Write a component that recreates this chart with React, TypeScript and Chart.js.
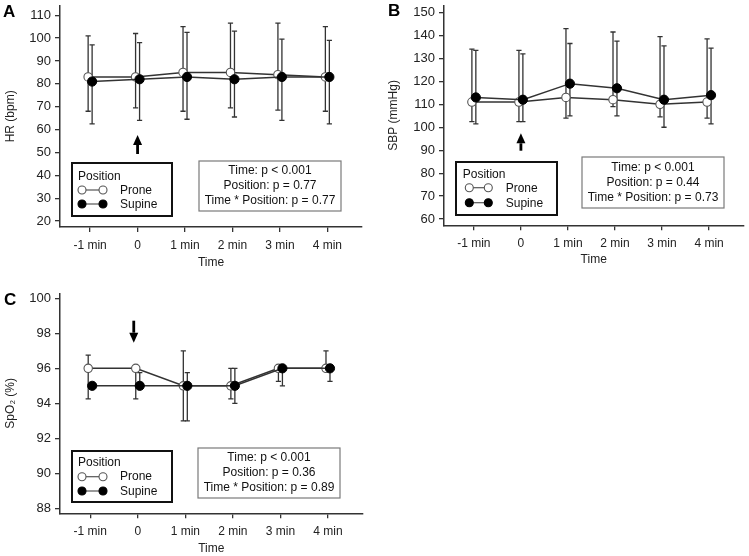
import React, { useEffect, useRef } from "react";
import { Chart, registerables } from "chart.js";

Chart.register(...registerables);

// ---------- data ----------
const timeLabels = ["-1 min", "0", "1 min", "2 min", "3 min", "4 min"];
const timePoints = [-1, 0, 1, 2, 3, 4];
const seriesNames = ["Prone", "Supine"];

// Panel A: HR (bpm)
const hrProne = [83, 83, 85, 85, 84, 83];
const hrProneUpper = [101, 102, 105, 106.5, 106.5, 105];
const hrProneLower = [68, 69.5, 68, 69.5, 68.5, 68];
const hrSupine = [81, 82, 83, 82, 83, 83];
const hrSupineUpper = [97, 98, 102.5, 103, 99.5, 99];
const hrSupineLower = [62.5, 64, 64.5, 65.5, 64, 62.5];
const hrTicks = [20, 30, 40, 50, 60, 70, 80, 90, 100, 110];
const hrStats = ["Time: p < 0.001", "Position: p = 0.77", "Time * Position: p = 0.77"];

// Panel B: SBP (mmHg)
const sbpProne = [111, 111, 113, 112, 110, 111];
const sbpProneUpper = [134, 133.5, 143, 141.5, 139.5, 138.5];
const sbpProneLower = [102.5, 102.5, 104, 109, 104.5, 104];
const sbpSupine = [113, 112, 119, 117, 112, 114];
const sbpSupineUpper = [133.5, 132, 136.5, 137.5, 135.5, 134.5];
const sbpSupineLower = [101.5, 102.5, 105, 105, 100, 101.5];
const sbpTicks = [60, 70, 80, 90, 100, 110, 120, 130, 140, 150];
const sbpStats = ["Time: p < 0.001", "Position: p = 0.44", "Time * Position: p = 0.73"];

// Panel C: SpO2 (%)
const spoProne = [96, 96, 95, 95, 96, 96];
const spoProneUpper = [96.75, 96, 97, 96, 96, 97];
const spoProneLower = [94.25, 94.25, 93, 94.25, 95.25, 96];
const spoSupine = [95, 95, 95, 95, 96, 96];
const spoSupineUpper = [95, 95.75, 95.75, 96, 96, 96];
const spoSupineLower = [95, 95, 93, 94, 95, 95.25];
const spoTicks = [88, 90, 92, 94, 96, 98, 100];
const spoStats = ["Time: p < 0.001", "Position: p = 0.36", "Time * Position: p = 0.89"];

// ---------- styling ----------
const FONT = "'Liberation Sans', Arial, sans-serif";
const INK = "#333333";
const SERIES_OFFSET = 0.042;
const X_MIN = -1.635;
const X_MAX = 4.73;

type Panel = {
  letter: string;
  yTitle: string;
  yMin: number;
  yMax: number;
  yTicks: number[];
  prone: number[];
  proneUp: number[];
  proneLo: number[];
  supine: number[];
  supineUp: number[];
  supineLo: number[];
  stats: string[];
  left: number;
  top: number;
  width: number;
  height: number;
  padTop: number;
  padRight: number;
  yWidth: number;
  xHeight: number;
  yTitlePad: number;
  xTitlePad: number;
  letterX: number;
  letterY: number;
  legend: { x: number; y: number; w: number; h: number; tx: number; ty: number; c1: number; c2: number; lx: number; r1: number; r2: number; b1: number; b2: number };
  statsBox: { x: number; y: number; w: number; h: number; b: number[] };
  arrow: { dx: number; tip: number; tail: number };
};

const panels: Panel[] = [
  {
    letter: "A",
    yTitle: "HR (bpm)",
    yMin: 17.4,
    yMax: 114.2,
    yTicks: hrTicks,
    prone: hrProne,
    proneUp: hrProneUpper,
    proneLo: hrProneLower,
    supine: hrSupine,
    supineUp: hrSupineUpper,
    supineLo: hrSupineLower,
    stats: hrStats,
    left: 0,
    top: 0,
    width: 375,
    height: 280,
    padTop: 3,
    padRight: 13,
    yWidth: 60,
    xHeight: 53,
    yTitlePad: 3,
    xTitlePad: 10,
    letterX: 3,
    letterY: 17,
    legend: { x: 72, y: 163, w: 100, h: 53, tx: 78, ty: 180.3, c1: 82, c2: 103, lx: 120, r1: 190, r2: 204, b1: 193.6, b2: 208 },
    statsBox: { x: 199, y: 161, w: 142, h: 50, b: [174, 189, 204] },
    arrow: { dx: 0, tip: 135, tail: 154 },
  },
  {
    letter: "B",
    yTitle: "SBP (mmHg)",
    yMin: 57.3,
    yMax: 153.0,
    yTicks: sbpTicks,
    prone: sbpProne,
    proneUp: sbpProneUpper,
    proneLo: sbpProneLower,
    supine: sbpSupine,
    supineUp: sbpSupineUpper,
    supineLo: sbpSupineLower,
    stats: sbpStats,
    left: 375,
    top: 0,
    width: 374,
    height: 280,
    padTop: 3,
    padRight: 3.3,
    yWidth: 69,
    xHeight: 54.7,
    yTitlePad: 11,
    xTitlePad: 13,
    letterX: 13,
    letterY: 16,
    legend: { x: 81, y: 162, w: 101, h: 53, tx: 87.7, ty: 177.6, c1: 94.3, c2: 113.3, lx: 130.7, r1: 187.7, r2: 202.7, b1: 192, b2: 207 },
    statsBox: { x: 207, y: 157, w: 142, h: 51, b: [170.5, 185.5, 200.5] },
    arrow: { dx: 0, tip: 133.3, tail: 150.7 },
  },
  {
    letter: "C",
    yTitle: "SpO\u2082 (%)",
    yMin: 87.71,
    yMax: 100.29,
    yTicks: spoTicks,
    prone: spoProne,
    proneUp: spoProneUpper,
    proneLo: spoProneLower,
    supine: spoSupine,
    supineUp: spoSupineUpper,
    supineLo: spoSupineLower,
    stats: spoStats,
    left: 0,
    top: 280,
    width: 375,
    height: 276,
    padTop: 13.3,
    padRight: 12.3,
    yWidth: 60,
    xHeight: 42.7,
    yTitlePad: 3,
    xTitlePad: 0.5,
    letterX: 4,
    letterY: 25,
    legend: { x: 72, y: 171, w: 100, h: 51, tx: 78, ty: 186.3, c1: 82, c2: 103, lx: 120, r1: 196.7, r2: 211, b1: 200.3, b2: 214.6 },
    statsBox: { x: 198, y: 168, w: 142, h: 50, b: [180.5, 195.5, 210.5] },
    arrow: { dx: -4, tip: 62.7, tail: 40.7 },
  },
];

function toPoints(values: number[], offset: number) {
  return values.map((v, i) => ({ x: timePoints[i] + offset, y: v }));
}

const errorBarPlugin = {
  id: "errorBars",
  beforeDatasetsDraw(chart: any) {
    const ctx = chart.ctx;
    const xs = chart.scales.x;
    const ys = chart.scales.y;
    ctx.save();
    ctx.strokeStyle = INK;
    ctx.lineWidth = 1.3;
    chart.data.datasets.forEach((ds: any) => {
      ds.data.forEach((pt: any, j: number) => {
        const up = ds.errUp[j];
        const lo = ds.errLo[j];
        const px = xs.getPixelForValue(pt.x);
        const pu = ys.getPixelForValue(up);
        const pl = ys.getPixelForValue(lo);
        ctx.beginPath();
        ctx.moveTo(px, pu);
        ctx.lineTo(px, pl);
        if (up > pt.y) {
          ctx.moveTo(px - 2.6, pu);
          ctx.lineTo(px + 2.6, pu);
        }
        if (lo < pt.y) {
          ctx.moveTo(px - 2.6, pl);
          ctx.lineTo(px + 2.6, pl);
        }
        ctx.stroke();
      });
    });
    ctx.restore();
  },
};

function makeDecorPlugin(p: Panel) {
  return {
    id: "decor" + p.letter,
    afterDraw(chart: any) {
      const ctx = chart.ctx;
      const xs = chart.scales.x;
      ctx.save();
      // panel letter
      ctx.fillStyle = "#000";
      ctx.font = `bold 17px ${FONT}`;
      ctx.textAlign = "left";
      ctx.textBaseline = "alphabetic";
      ctx.fillText(p.letter, p.letterX, p.letterY);

      // arrow at time 0
      const ax = xs.getPixelForValue(0) + p.arrow.dx;
      const dir = p.arrow.tip < p.arrow.tail ? -1 : 1;
      const headLen = 10;
      const headBase = p.arrow.tip - dir * headLen;
      ctx.fillStyle = "#000";
      ctx.fillRect(ax - 1.4, Math.min(headBase, p.arrow.tail), 2.8, Math.abs(p.arrow.tail - headBase));
      ctx.beginPath();
      ctx.moveTo(ax, p.arrow.tip);
      ctx.lineTo(ax - 4.5, headBase);
      ctx.lineTo(ax + 4.5, headBase);
      ctx.closePath();
      ctx.fill();

      // legend box
      const L = p.legend;
      ctx.strokeStyle = "#111";
      ctx.lineWidth = 2;
      ctx.strokeRect(L.x, L.y, L.w, L.h);
      ctx.font = `12px ${FONT}`;
      ctx.fillStyle = "#111";
      ctx.fillText("Position", L.tx, L.ty);
      const rows = [
        { cy: L.r1, by: L.b1, fill: "#ffffff", stroke: "#555", name: seriesNames[0] },
        { cy: L.r2, by: L.b2, fill: "#000000", stroke: "#000", name: seriesNames[1] },
      ];
      rows.forEach((r) => {
        ctx.strokeStyle = "#555";
        ctx.lineWidth = 1.2;
        ctx.beginPath();
        ctx.moveTo(L.c1, r.cy);
        ctx.lineTo(L.c2, r.cy);
        ctx.stroke();
        [L.c1, L.c2].forEach((cx) => {
          ctx.beginPath();
          ctx.arc(cx, r.cy, 4, 0, Math.PI * 2);
          ctx.fillStyle = r.fill;
          ctx.fill();
          ctx.strokeStyle = r.stroke;
          ctx.lineWidth = 1.1;
          ctx.stroke();
        });
        ctx.fillStyle = "#111";
        ctx.fillText(r.name, L.lx, r.by);
      });

      // stats box
      const S = p.statsBox;
      ctx.strokeStyle = "#7a7a7a";
      ctx.lineWidth = 1.2;
      ctx.strokeRect(S.x, S.y, S.w, S.h);
      ctx.fillStyle = "#111";
      ctx.textAlign = "center";
      p.stats.forEach((s, i) => {
        ctx.fillText(s, S.x + S.w / 2, S.b[i]);
      });
      ctx.restore();
    },
  };
}

function makeConfig(p: Panel): any {
  return {
    type: "line",
    data: {
      datasets: [
        {
          label: seriesNames[0],
          data: toPoints(p.prone, -SERIES_OFFSET),
          errUp: p.proneUp,
          errLo: p.proneLo,
          borderColor: INK,
          borderWidth: 1.5,
          pointRadius: 4.2,
          pointBackgroundColor: "#ffffff",
          pointBorderColor: "#555555",
          pointBorderWidth: 1.1,
          order: 1,
          clip: false,
        },
        {
          label: seriesNames[1],
          data: toPoints(p.supine, SERIES_OFFSET),
          errUp: p.supineUp,
          errLo: p.supineLo,
          borderColor: INK,
          borderWidth: 1.5,
          pointRadius: 4.6,
          pointBackgroundColor: "#000000",
          pointBorderColor: "#000000",
          pointBorderWidth: 1,
          order: 0,
          clip: false,
        },
      ],
    },
    options: {
      animation: false,
      responsive: false,
      devicePixelRatio: 1,
      layout: { padding: { top: p.padTop, right: p.padRight, left: 0, bottom: 0 } },
      plugins: {
        legend: { display: false },
        tooltip: { enabled: false },
        title: { display: false },
      },
      scales: {
        x: {
          type: "linear",
          min: X_MIN,
          max: X_MAX,
          afterBuildTicks: (scale: any) => {
            scale.ticks = timePoints.map((v) => ({ value: v }));
          },
          afterFit: (scale: any) => {
            scale.height = p.xHeight;
            scale.paddingLeft = 0;
            scale.paddingRight = 0;
          },
          ticks: {
            autoSkip: false,
            maxRotation: 0,
            padding: 6,
            color: "#222",
            font: { family: FONT, size: 12 },
            callback: (v: number) => {
              const i = timePoints.indexOf(Math.round(v));
              return i >= 0 ? timeLabels[i] : "";
            },
          },
          grid: { display: true, drawOnChartArea: false, drawTicks: true, tickLength: 5, color: INK, lineWidth: 1.3 },
          border: { display: true, color: INK, width: 1.5 },
          title: { display: true, text: "Time", color: "#222", font: { family: FONT, size: 12 }, padding: { top: 0, bottom: p.xTitlePad } },
        },
        y: {
          type: "linear",
          min: p.yMin,
          max: p.yMax,
          afterBuildTicks: (scale: any) => {
            scale.ticks = p.yTicks.map((v) => ({ value: v }));
          },
          afterFit: (scale: any) => {
            scale.width = p.yWidth;
            scale.paddingTop = 0;
            scale.paddingBottom = 0;
          },
          ticks: {
            padding: 4,
            color: "#222",
            font: { family: FONT, size: 13 },
            callback: (v: number) => String(v),
          },
          grid: { display: true, drawOnChartArea: false, drawTicks: true, tickLength: 5, color: INK, lineWidth: 1.3 },
          border: { display: true, color: INK, width: 1.5 },
          title: { display: true, text: p.yTitle, color: "#222", font: { family: FONT, size: 12 }, padding: { top: p.yTitlePad, bottom: 0 } },
        },
      },
    },
    plugins: [errorBarPlugin, makeDecorPlugin(p)],
  };
}

function PanelChart({ p }: { p: Panel }) {
  const ref = useRef<HTMLCanvasElement | null>(null);
  useEffect(() => {
    if (!ref.current) return;
    const chart = new Chart(ref.current, makeConfig(p));
    return () => chart.destroy();
  }, [p]);
  return (
    <canvas
      ref={ref}
      width={p.width}
      height={p.height}
      style={{ position: "absolute", left: p.left, top: p.top, width: p.width, height: p.height }}
    />
  );
}

export default function App() {
  return (
    <div style={{ position: "absolute", left: 0, top: 0, width: 749, height: 556, background: "#fff", overflow: "hidden" }}>
      {panels.map((p) => (
        <PanelChart key={p.letter} p={p} />
      ))}
    </div>
  );
}
